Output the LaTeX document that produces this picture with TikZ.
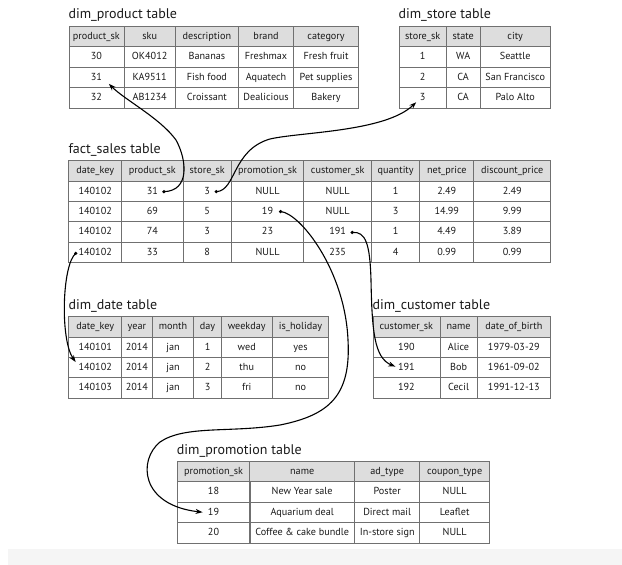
\documentclass[tikz,border=0pt]{standalone}
\usepackage{fontspec}
\setmainfont{PT Sans}
\usetikzlibrary{matrix, arrows.meta, calc}
\definecolor{gridgray}{HTML}{707070}
\definecolor{headgray}{HTML}{DDDDDD}
\definecolor{inkgray}{HTML}{1A1A1A}

\begin{document}
\begin{tikzpicture}[x=1pt, y=-1pt,
  tabcell/.style={draw=gridgray, line width=0.7pt, inner sep=0pt, anchor=center, minimum height=20.4pt, text height=7pt, text depth=1pt, text=inkgray, font=\fontsize{10.2}{12}\selectfont},
  datatable/.style={matrix of nodes, anchor=north west, inner sep=0pt, column sep=-0.7pt, row sep=-0.7pt, nodes={tabcell}, row 1/.style={nodes={fill=headgray}}},
  colw/.style 2 args={column #1/.style={nodes={minimum width=#2pt}}},
  tabtitle/.style={anchor=base west, inner sep=0pt, text=inkgray, font=\fontsize{14}{16}\selectfont},
  fkey/.style={line width=1.1pt, -{Stealth[length=7pt, width=5pt]}}]
\useasboundingbox (0,0) rectangle (622,565);
\fill[black!4] (8,549) rectangle (622,565);

\matrix[datatable, colw={1}{55}, colw={2}{51.7}, colw={3}{62.7}, colw={4}{55.6}, colw={5}{64.4}] (prod) at (68.3,25.7) {
product\_sk & sku & description & brand & category \\
30 & OK4012 & Bananas & Freshmax & Fresh fruit \\
31 & KA9511 & Fish food & Aquatech & Pet supplies \\
32 & AB1234 & Croissant & Dealicious & Bakery \\
};
\node[tabtitle] (prod-title) at ([yshift=7pt]prod.north west) {dim\_product table};

\matrix[datatable, colw={1}{47.7}, colw={2}{33.3}, colw={3}{70.7}] (store) at (398.3,25.7) {
store\_sk & state & city \\
1 & WA & Seattle \\
2 & CA & San Francisco \\
3 & CA & Palo Alto \\
};
\node[tabtitle] (store-title) at ([yshift=7pt]store.north west) {dim\_store table};

\matrix[datatable, colw={1}{52.7}, colw={2}{61.7}, colw={3}{48}, colw={4}{72.6}, colw={5}{67.7}, colw={6}{48.3}, colw={7}{54}, colw={8}{76.7}] (fact) at (68.3,160) {
date\_key & product\_sk & store\_sk & promotion\_sk & customer\_sk & quantity & net\_price & discount\_price \\
140102 & 31 & 3 & NULL & NULL & 1 & 2.49 & 2.49 \\
140102 & 69 & 5 & 19 & NULL & 3 & 14.99 & 9.99 \\
140102 & 74 & 3 & 23 & 191 & 1 & 4.49 & 3.89 \\
140102 & 33 & 8 & NULL & 235 & 4 & 0.99 & 0.99 \\
};
\node[tabtitle] (fact-title) at ([yshift=6.5pt]fact.north west) {fact\_sales table};

\matrix[datatable, colw={1}{52.7}, colw={2}{30.7}, colw={3}{41.6}, colw={4}{27.4}, colw={5}{51}, colw={6}{56.6}] (date) at (68.3,316) {
date\_key & year & month & day & weekday & is\_holiday \\
140101 & 2014 & jan & 1 & wed & yes \\
140102 & 2014 & jan & 2 & thu & no \\
140103 & 2014 & jan & 3 & fri & no \\
};
\node[tabtitle] (date-title) at ([yshift=6.5pt]date.north west) {dim\_date table};

\matrix[datatable, colw={1}{67}, colw={2}{37.4}, colw={3}{73.3}] (cust) at (372.3,316) {
customer\_sk & name & date\_of\_birth \\
190 & Alice & 1979-03-29 \\
191 & Bob & 1961-09-02 \\
192 & Cecil & 1991-12-13 \\
};
\node[tabtitle] (cust-title) at ([yshift=6.5pt]cust.north west) {dim\_customer table};

\matrix[datatable, colw={1}{72.6}, colw={2}{104.7}, colw={3}{65.3}, colw={4}{69.7}] (promo) at (176.7,460.7) {
promotion\_sk & name & ad\_type & coupon\_type \\
18 & New Year sale & Poster & NULL \\
19 & Aquarium deal & Direct mail & Leaflet \\
20 & Coffee \& cake bundle & In-store sign & NULL \\
};
\node[tabtitle] (promo-title) at ([yshift=6pt]promo.north west) {dim\_promotion table};

\coordinate (dot-prod) at ([shift={(11.5,0.5)}]fact-2-2.center);
\coordinate (dot-store) at ([shift={(9,0.5)}]fact-2-3.center);
\coordinate (dot-promo) at ([shift={(13,0)}]fact-3-4.center);
\coordinate (dot-cust) at ([shift={(14.5,0.5)}]fact-4-5.center);
\coordinate (dot-date) at ([shift={(-19.5,1)}]fact-5-1.center);
\coordinate (tip-prod) at ([shift={(12.5,6.6)}]prod-3-1.center);
\coordinate (tip-store) at ([shift={(-6.5,4.6)}]store-4-1.center);
\coordinate (tip-cust) at ([shift={(-11,-1)}]cust-3-1.center);
\coordinate (tip-promo) at ([shift={(-11,0)}]promo-3-1.center);
\coordinate (tip-date) at ([shift={(-19.5,-5.5)}]date-3-1.center);

\foreach \d in {prod, store, promo, cust, date}
  \fill (dot-\d) circle (1.8);

\draw[fkey] (dot-prod) .. controls (190,191) and (187,160) .. (176,140) .. controls (160,118) and (125,100) .. (tip-prod);
\draw[fkey] (dot-store) .. controls (236,191) and (232,150) .. (270,139) .. controls (300,132) and (385,132) .. (tip-store);
\draw[fkey] (dot-promo) .. controls (300,213) and (345,270) .. (348,340) .. controls (351,395) and (330,415) .. (280,425) .. controls (230,433) and (185,425) .. (160,442) .. controls (138,460) and (140,505) .. (tip-promo);
\draw[fkey] (dot-cust) .. controls (366,231) and (370,245) .. (371,280) .. controls (372,330) and (374,358) .. (tip-cust);
\draw[fkey] (dot-date) .. controls (62,265) and (60,340) .. (tip-date);
\end{tikzpicture}
\end{document}
